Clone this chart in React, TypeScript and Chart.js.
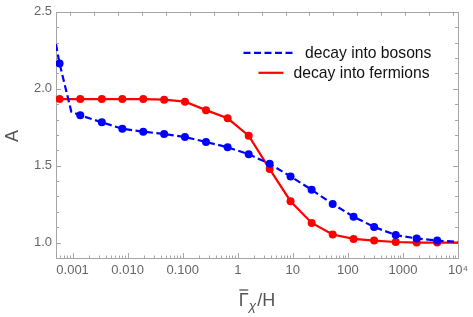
import React, { useEffect, useRef } from "react";
import { Chart, registerables } from "chart.js";

Chart.register(...registerables);

// ---- data ----
const gammaOverH = [
  0.00058, 0.00138, 0.0034, 0.008, 0.0192, 0.046, 0.11, 0.265, 0.655, 1.58,
  3.8, 9.1, 22, 53, 127, 300, 740, 1780, 4190,
];
const bosonA = [
  2.164, 1.827, 1.782, 1.74, 1.721, 1.706, 1.686, 1.654, 1.62, 1.574, 1.512,
  1.43, 1.343, 1.251, 1.168, 1.102, 1.049, 1.027, 1.013,
];
const fermionA = [
  1.933, 1.933, 1.933, 1.933, 1.933, 1.929, 1.916, 1.861, 1.808, 1.695, 1.478,
  1.269, 1.128, 1.053, 1.024, 1.013, 1.004, 1.0, 1.0,
];
// extra curve nodes (line only, no marker)
const bosonCurveStartX = [0.0005, 0.00058, 0.00095];
const bosonCurveStartA = [2.29, 2.164, 1.85];
const bosonCurveEndX = [10000];
const bosonCurveEndA = [1.005];
const fermionCurveStartX = [0.0005];
const fermionCurveStartA = [1.933];
const fermionCurveEndX = [10000];
const fermionCurveEndA = [1.0];

const xMin = 0.0005;
const xMax = 10000;
const yMin = 0.9;
const yMax = 2.5;

const xTickValues = [0.001, 0.01, 0.1, 1, 10, 100, 1000, 10000];
const xTickLabels = ["0.001", "0.010", "0.100", "1", "10", "100", "1000", "10\u2074"];
const yTickValues = [1.0, 1.5, 2.0, 2.5];
const yTickLabels = ["1.0", "1.5", "2.0", "2.5"];
const yMinorStep = 0.1;
const topTickLnValues = [-7, -6, -5, -4, -3, -2, -1, 0, 1, 2, 3, 4, 5, 6, 7, 8, 9];

const seriesLabels = ["decay into bosons", "decay into fermions"];
const BLUE = "#0000ff";
const RED = "#ff0000";
const FONT = "'Liberation Sans', Arial, Helvetica, sans-serif";

const pts = (xs: number[], ys: number[]) => xs.map((x, i) => ({ x, y: ys[i] }));

const framePlugin = {
  id: "frameTicks",
  beforeDatasetsDraw(chart: any) {
    const { ctx, chartArea: ca, scales } = chart;
    const xs = scales.x;
    const ys = scales.y;
    ctx.save();
    ctx.strokeStyle = "#a6a6a6";
    ctx.lineWidth = 1;
    ctx.strokeRect(Math.round(ca.left) + 0.5, Math.round(ca.top) + 0.5, Math.round(ca.right - ca.left), Math.round(ca.bottom - ca.top));
    ctx.beginPath();
    // bottom ticks (log decades + minor)
    const lo = Math.floor(Math.log10(xMin));
    const hi = Math.ceil(Math.log10(xMax));
    for (let d = lo; d <= hi; d++) {
      for (let m = 1; m <= 9; m++) {
        const v = m * Math.pow(10, d);
        if (v < xMin - 1e-12 || v > xMax + 1e-9) continue;
        const px = Math.round(xs.getPixelForValue(v)) + 0.5;
        const len = m === 1 ? 5 : 2.5;
        ctx.moveTo(px, ca.bottom);
        ctx.lineTo(px, ca.bottom - len);
      }
    }
    // top ticks
    for (const k of topTickLnValues) {
      const v = Math.exp(k);
      if (v < xMin || v > xMax) continue;
      const px = Math.round(xs.getPixelForValue(v)) + 0.5;
      ctx.moveTo(px, ca.top);
      ctx.lineTo(px, ca.top + 4);
    }
    // left/right ticks
    for (let i = 0; ; i++) {
      const v = +(yMin + i * yMinorStep).toFixed(3);
      if (v > yMax + 1e-9) break;
      const major = yTickValues.some((t) => Math.abs(t - v) < 1e-6);
      const py = Math.round(ys.getPixelForValue(v)) + 0.5;
      const len = major ? 5 : 3;
      ctx.moveTo(ca.left, py);
      ctx.lineTo(ca.left + len, py);
      ctx.moveTo(ca.right, py);
      ctx.lineTo(ca.right - len, py);
    }
    ctx.stroke();
    ctx.restore();
  },
  afterDraw(chart: any) {
    const { ctx, chartArea: ca } = chart;
    ctx.save();
    // legend
    ctx.lineWidth = 2.2;
    ctx.strokeStyle = BLUE;
    ctx.setLineDash([7, 3.5]);
    ctx.beginPath();
    ctx.moveTo(ca.right - 214.5, ca.top + 41);
    ctx.lineTo(ca.right - 164.5, ca.top + 41);
    ctx.stroke();
    ctx.setLineDash([]);
    ctx.strokeStyle = RED;
    ctx.beginPath();
    ctx.moveTo(ca.right - 199.5, ca.top + 61);
    ctx.lineTo(ca.right - 174.5, ca.top + 61);
    ctx.stroke();
    ctx.fillStyle = "#111";
    ctx.font = `15.7px ${FONT}`;
    ctx.textBaseline = "alphabetic";
    ctx.textAlign = "left";
    ctx.fillText(seriesLabels[0], ca.right - 153, ca.top + 46);
    ctx.fillText(seriesLabels[1], ca.right - 164.5, ca.top + 66);

    // y title
    ctx.fillStyle = "#555";
    ctx.font = `18px ${FONT}`;
    ctx.save();
    ctx.translate(13.5, (ca.top + ca.bottom) / 2 + 1);
    ctx.rotate(-Math.PI / 2);
    ctx.textAlign = "center";
    ctx.textBaseline = "middle";
    ctx.fillText("A", 0, 0);
    ctx.restore();

    // x title: Γ̄_χ / H
    const base = 306;
    ctx.textAlign = "left";
    ctx.textBaseline = "alphabetic";
    ctx.font = `18px ${FONT}`;
    const wG = ctx.measureText("\u0393").width;
    const wRest = ctx.measureText("/H").width;
    ctx.font = `italic 13.5px ${FONT}`;
    const wChi = ctx.measureText("\u03c7").width;
    const total = wG + wChi + 1 + wRest;
    const x0 = (ca.left + ca.right) / 2 - total / 2;
    ctx.font = `18px ${FONT}`;
    ctx.fillText("\u0393", x0, base);
    ctx.strokeStyle = "#555";
    ctx.lineWidth = 1.3;
    ctx.beginPath();
    ctx.moveTo(x0 + 0.5, base - 16);
    ctx.lineTo(x0 + wG - 0.5, base - 16);
    ctx.stroke();
    ctx.font = `italic 13.5px ${FONT}`;
    ctx.fillText("\u03c7", x0 + wG, base + 3.5);
    ctx.font = `18px ${FONT}`;
    ctx.fillText("/H", x0 + wG + wChi + 1, base);
    ctx.restore();
  },
};

export default function App() {
  const ref = useRef<HTMLCanvasElement | null>(null);
  useEffect(() => {
    document.body.style.margin = "0";
    const canvas = ref.current;
    if (!canvas) return;
    const bosonCurve = [
      ...pts(bosonCurveStartX, bosonCurveStartA),
      ...pts(gammaOverH.slice(1), bosonA.slice(1)),
      ...pts(bosonCurveEndX, bosonCurveEndA),
    ];
    const fermionCurve = [
      ...pts(fermionCurveStartX, fermionCurveStartA),
      ...pts(gammaOverH, fermionA),
      ...pts(fermionCurveEndX, fermionCurveEndA),
    ];
    const chart = new Chart(canvas, {
      type: "line",
      data: {
        datasets: [
          {
            label: seriesLabels[0],
            data: bosonCurve,
            borderColor: BLUE,
            borderWidth: 2.2,
            borderDash: [7, 3.5],
            pointRadius: 0,
            fill: false,
            tension: 0,
          },
          {
            label: seriesLabels[0] + " points",
            data: pts(gammaOverH, bosonA),
            showLine: false,
            pointRadius: 4,
            pointBackgroundColor: BLUE,
            pointBorderWidth: 0,
            borderColor: BLUE,
          },
          {
            label: seriesLabels[1],
            data: fermionCurve,
            borderColor: RED,
            borderWidth: 2.2,
            pointRadius: 0,
            fill: false,
            tension: 0,
          },
          {
            label: seriesLabels[1] + " points",
            data: pts(gammaOverH, fermionA),
            showLine: false,
            pointRadius: 4,
            pointBackgroundColor: RED,
            pointBorderWidth: 0,
            borderColor: RED,
          },
        ],
      },
      options: {
        animation: false,
        responsive: false,
        maintainAspectRatio: false,
        parsing: false as any,
        layout: { autoPadding: false, padding: { top: 8, right: 12, left: 0, bottom: 0 } },
        plugins: { legend: { display: false }, tooltip: { enabled: false } },
        scales: {
          x: {
            type: "logarithmic",
            min: xMin,
            max: xMax,
            grid: { display: false, drawTicks: false },
            border: { display: false },
            afterBuildTicks: (s: any) => {
              s.ticks = xTickValues.map((v) => ({ value: v }));
            },
            afterFit: (s: any) => {
              s.height = 59;
            },
            ticks: {
              autoSkip: false,
              maxRotation: 0,
              minRotation: 0,
              color: "#666",
              padding: 5,
              font: { family: FONT, size: 13 },
              callback: (_v: any, i: number) => xTickLabels[i],
            },
          },
          y: {
            type: "linear",
            min: yMin,
            max: yMax,
            grid: { display: false, drawTicks: false },
            border: { display: false },
            afterBuildTicks: (s: any) => {
              s.ticks = yTickValues.map((v) => ({ value: v }));
            },
            afterFit: (s: any) => {
              s.width = 56;
            },
            ticks: {
              autoSkip: false,
              color: "#666",
              padding: 4,
              font: { family: FONT, size: 13 },
              callback: (_v: any, i: number) => yTickLabels[i],
            },
          },
        },
      },
      plugins: [framePlugin],
    } as any);
    return () => chart.destroy();
  }, []);
  return (
    <div style={{ position: "relative", width: 473, height: 317, background: "#fff" }}>
      <canvas ref={ref} width={473} height={317} style={{ display: "block" }} />
    </div>
  );
}
